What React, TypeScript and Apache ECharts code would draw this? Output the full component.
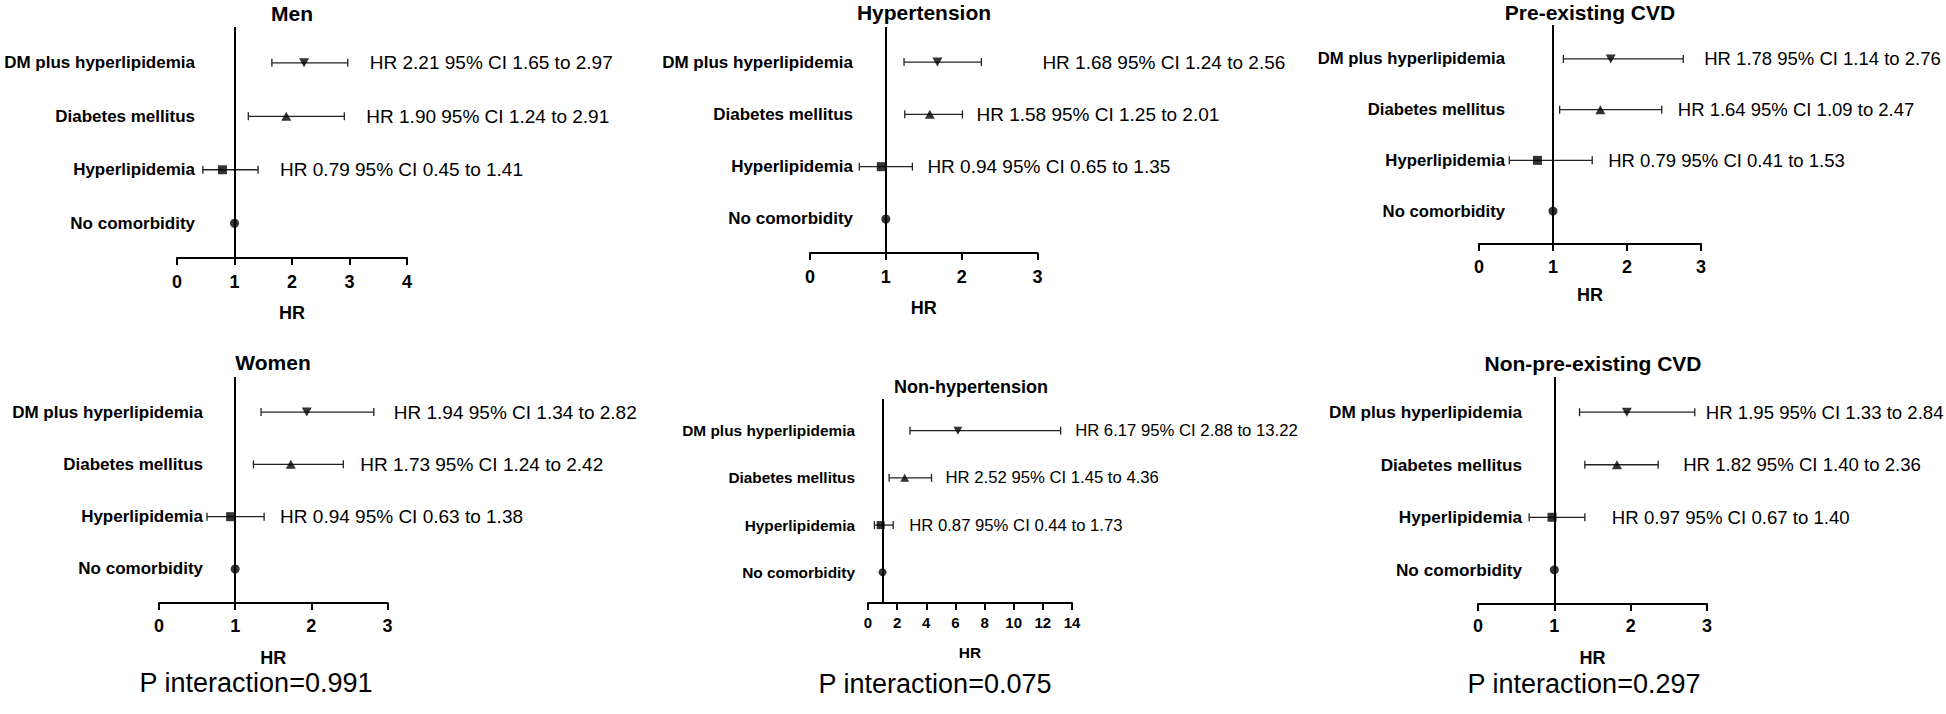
import React, { useEffect, useRef } from "react";
import * as echarts from "echarts";

// ---------- data ----------
const rowNames = ["DM plus hyperlipidemia", "Diabetes mellitus", "Hyperlipidemia", "No comorbidity"];

const menHR = [2.21, 1.9, 0.79, 1];
const menLo = [1.65, 1.24, 0.45];
const menHi = [2.97, 2.91, 1.41];
const menNotes = ["HR 2.21 95% CI 1.65 to 2.97", "HR 1.90 95% CI 1.24 to 2.91", "HR 0.79 95% CI 0.45 to 1.41"];

const hypHR = [1.68, 1.58, 0.94, 1];
const hypLo = [1.24, 1.25, 0.65];
const hypHi = [2.26, 2.01, 1.35];
const hypNotes = ["HR 1.68 95% CI 1.24 to 2.56", "HR 1.58 95% CI 1.25 to 2.01", "HR 0.94 95% CI 0.65 to 1.35"];

const preHR = [1.78, 1.64, 0.79, 1];
const preLo = [1.14, 1.09, 0.41];
const preHi = [2.76, 2.47, 1.53];
const preNotes = ["HR 1.78 95% CI 1.14 to 2.76", "HR 1.64 95% CI 1.09 to 2.47", "HR 0.79 95% CI 0.41 to 1.53"];

const womenHR = [1.94, 1.73, 0.94, 1];
const womenLo = [1.34, 1.24, 0.63];
const womenHi = [2.82, 2.42, 1.38];
const womenNotes = ["HR 1.94 95% CI 1.34 to 2.82", "HR 1.73 95% CI 1.24 to 2.42", "HR 0.94 95% CI 0.63 to 1.38"];

const nonHypHR = [6.17, 2.52, 0.87, 1];
const nonHypLo = [2.88, 1.45, 0.44];
const nonHypHi = [13.22, 4.36, 1.73];
const nonHypNotes = ["HR 6.17 95% CI 2.88 to 13.22", "HR 2.52 95% CI 1.45 to 4.36", "HR 0.87 95% CI 0.44 to 1.73"];

const nonPreHR = [1.95, 1.82, 0.97, 1];
const nonPreLo = [1.33, 1.4, 0.67];
const nonPreHi = [2.84, 2.36, 1.4];
const nonPreNotes = ["HR 1.95 95% CI 1.33 to 2.84", "HR 1.82 95% CI 1.40 to 2.36", "HR 0.97 95% CI 0.67 to 1.40"];

const titles = ["Men", "Hypertension", "Pre-existing CVD", "Women", "Non-hypertension", "Non-pre-existing CVD"];
const xMax = [4, 3, 3, 3, 14, 3];
const xStep = [1, 1, 1, 1, 2, 1];
const pTexts = ["P interaction=0.991", "P interaction=0.075", "P interaction=0.297"];
const axisName = "HR";

// ---------- layout ----------
const FONT = "'Liberation Sans', Arial, Helvetica, sans-serif";
const panels = [
  { hr: menHR, lo: menLo, hi: menHi, notes: menNotes },
  { hr: hypHR, lo: hypLo, hi: hypHi, notes: hypNotes },
  { hr: preHR, lo: preLo, hi: preHi, notes: preNotes },
  { hr: womenHR, lo: womenLo, hi: womenHi, notes: womenNotes },
  { hr: nonHypHR, lo: nonHypLo, hi: nonHypHi, notes: nonHypNotes },
  { hr: nonPreHR, lo: nonPreLo, hi: nonPreHi, notes: nonPreNotes },
];
const layouts = [
  { left: 177, width: 230, top: 27, height: 231, tx: 292, ty: 13, ts: 21, lm: -18, ls: 17, tk: 18, tm: 15, ng: 46, ns: 18, nf: 19, gaps: [22, 22, 22], ms: 9 },
  { left: 810, width: 227.5, top: 27, height: 226, tx: 924, ty: 12, ts: 21, lm: -43, ls: 17, tk: 18, tm: 15, ng: 46, ns: 18, nf: 19, gaps: [61, 14, 15], ms: 9 },
  { left: 1479, width: 222, top: 25, height: 219, tx: 1590, ty: 12, ts: 21, lm: -26, ls: 16.7, tk: 18, tm: 14, ng: 42, ns: 18, nf: 18.5, gaps: [21, 16, 16], ms: 9 },
  { left: 159, width: 228.5, top: 377, height: 226, tx: 273, ty: 362, ts: 21, lm: -44, ls: 17, tk: 18, tm: 14, ng: 46, ns: 18, nf: 19, gaps: [20, 17, 16], ms: 9 },
  { left: 868, width: 204, top: 399, height: 204, tx: 971, ty: 387, ts: 18, lm: 13, ls: 15.4, tk: 15, tm: 12, ng: 41, ns: 15.5, nf: 16.7, gaps: [14.5, 14, 16], ms: 8 },
  { left: 1478, width: 229, top: 377, height: 227, tx: 1593, ty: 363, ts: 21, lm: -44, ls: 17.2, tk: 18, tm: 13, ng: 45, ns: 18, nf: 18.6, gaps: [11, 25, 27], ms: 9 },
];
const pPos = [
  { x: 256, y: 683 },
  { x: 935, y: 684 },
  { x: 1584, y: 684 },
];

const symbols = [
  { symbol: "triangle", rotate: 180, size: [10, 9] },
  { symbol: "triangle", rotate: 0, size: [10, 9] },
  { symbol: "rect", rotate: 0, size: [9, 9] },
  { symbol: "circle", rotate: 0, size: [9, 9] },
];

function buildOption() {
  const grid: any[] = [];
  const xAxis: any[] = [];
  const yAxis: any[] = [];
  const series: any[] = [];
  const graphic: any[] = [];

  panels.forEach((p, k) => {
    const L = layouts[k];
    grid.push({ left: L.left, top: L.top, width: L.width, height: L.height, containLabel: false });
    xAxis.push({
      type: "value",
      gridIndex: k,
      min: 0,
      max: xMax[k],
      interval: xStep[k],
      name: axisName,
      nameLocation: "middle",
      nameGap: L.ng,
      nameTextStyle: { fontFamily: FONT, fontWeight: "bold", fontSize: L.ns, color: "#000" },
      axisLine: { show: true, onZero: false, lineStyle: { color: "#000", width: 2 } },
      axisTick: { show: true, inside: false, length: 7, lineStyle: { color: "#000", width: 2 } },
      axisLabel: { fontFamily: FONT, fontWeight: "bold", fontSize: L.tk, color: "#000", margin: L.tm },
      splitLine: { show: false },
    });
    yAxis.push({
      type: "value",
      gridIndex: k,
      min: -0.67,
      max: 3.65,
      inverse: true,
      axisLine: { show: false },
      axisTick: { show: false },
      splitLine: { show: false },
      axisLabel: {
        customValues: [0, 1, 2, 3],
        margin: L.lm,
        fontFamily: FONT,
        fontWeight: "bold",
        fontSize: L.ls,
        color: "#000",
        formatter: (v: number) => (Math.abs(v - Math.round(v)) < 1e-6 && rowNames[Math.round(v)] ? rowNames[Math.round(v)] : ""),
      },
    });

    // error bars + notes
    const barData = p.lo.map((lo, i) => [lo, p.hi[i], i]);
    series.push({
      type: "custom",
      xAxisIndex: k,
      yAxisIndex: k,
      silent: true,
      clip: false,
      z: 2,
      data: barData,
      renderItem: (params: any, api: any) => {
        const i = params.dataIndex;
        const a = api.coord([api.value(0), api.value(2)]);
        const b = api.coord([api.value(1), api.value(2)]);
        const cap = 4;
        const st = { stroke: "#222", lineWidth: 1.3 };
        return {
          type: "group",
          children: [
            { type: "line", shape: { x1: a[0], y1: a[1], x2: b[0], y2: b[1] }, style: st },
            { type: "line", shape: { x1: a[0], y1: a[1] - cap, x2: a[0], y2: a[1] + cap }, style: st },
            { type: "line", shape: { x1: b[0], y1: b[1] - cap, x2: b[0], y2: b[1] + cap }, style: st },
            {
              type: "text",
              x: b[0] + L.gaps[i],
              y: b[1],
              style: {
                text: p.notes[i],
                font: `${L.nf}px ${FONT}`,
                fill: "#000",
                textAlign: "left",
                textVerticalAlign: "middle",
                align: "left",
                verticalAlign: "middle",
              },
            },
          ],
        };
      },
    });

    // markers + reference line at HR = 1
    series.push({
      type: "scatter",
      xAxisIndex: k,
      yAxisIndex: k,
      silent: true,
      z: 3,
      itemStyle: { color: "#000" },
      data: p.hr.map((v, i) => ({
        value: [v, i],
        symbol: symbols[i].symbol,
        symbolRotate: symbols[i].rotate,
        symbolSize: symbols[i].size.map((s) => (s * L.ms) / 9),
      })),
      markLine: {
        silent: true,
        symbol: ["none", "none"],
        label: { show: false },
        lineStyle: { color: "#000", width: 2, type: "solid" },
        data: [{ xAxis: 1 }],
      },
    });

    graphic.push({
      type: "text",
      x: L.tx,
      y: L.ty,
      style: {
        text: titles[k],
        font: `bold ${L.ts}px ${FONT}`,
        fill: "#000",
        textAlign: "center",
        textVerticalAlign: "middle",
        align: "center",
        verticalAlign: "middle",
      },
    });
  });

  pTexts.forEach((t, j) => {
    graphic.push({
      type: "text",
      x: pPos[j].x,
      y: pPos[j].y,
      style: {
        text: t,
        font: `27px ${FONT}`,
        fill: "#000",
        textAlign: "center",
        textVerticalAlign: "middle",
        align: "center",
        verticalAlign: "middle",
      },
    });
  });

  return {
    animation: false,
    backgroundColor: "#fff",
    grid,
    xAxis,
    yAxis,
    series,
    graphic,
  };
}

export default function App() {
  const ref = useRef<HTMLDivElement>(null);
  useEffect(() => {
    if (!ref.current) return;
    const chart = echarts.init(ref.current, undefined, { renderer: "svg" });
    chart.setOption(buildOption() as any);
    return () => chart.dispose();
  }, []);
  return (
    <div
      ref={ref}
      style={{ position: "fixed", left: 0, top: 0, width: 1946, height: 714, background: "#fff" }}
    />
  );
}
